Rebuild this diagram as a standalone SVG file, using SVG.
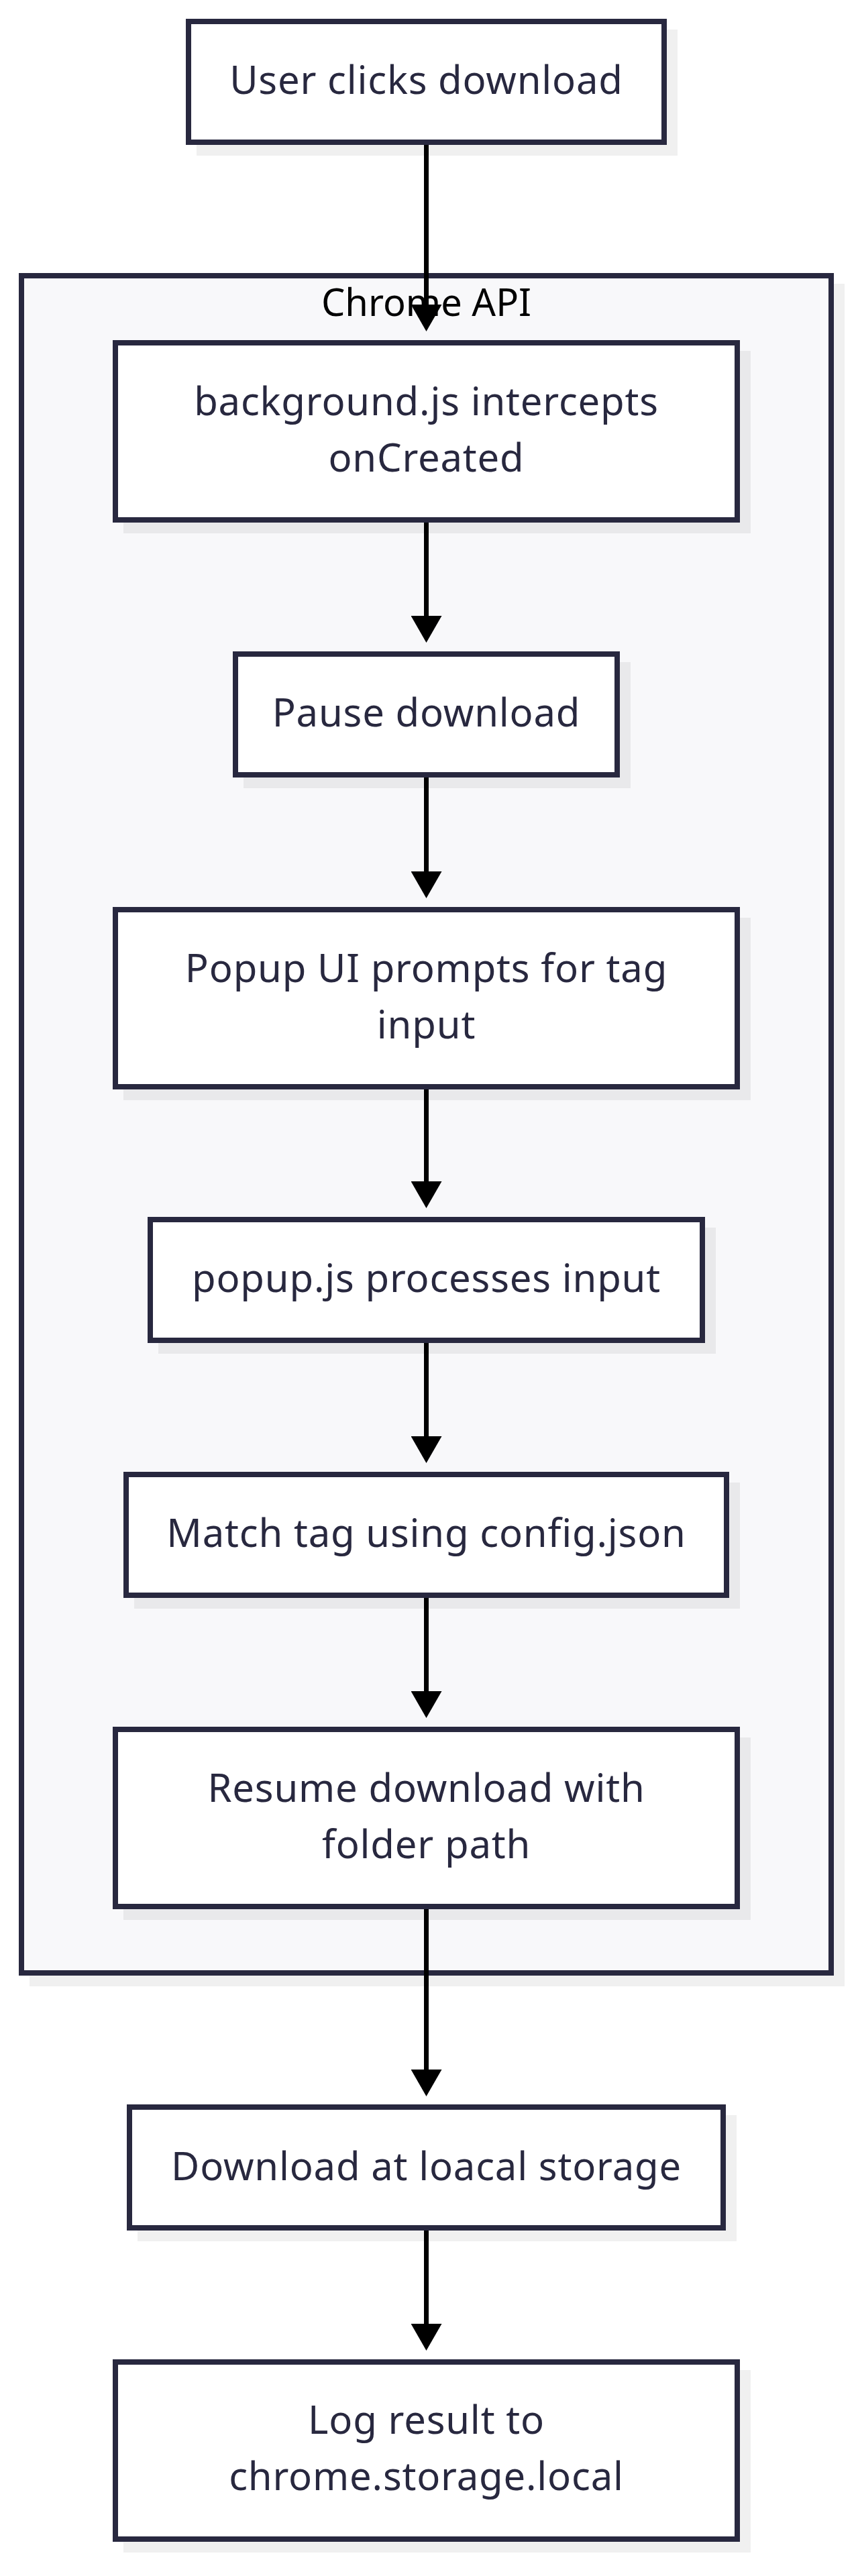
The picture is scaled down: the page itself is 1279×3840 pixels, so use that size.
<svg xmlns="http://www.w3.org/2000/svg" width="1279" height="3840" viewBox="0 0 1279 3840">
<style>
.node{fill:#ffffff;stroke:#28283f;stroke-width:8}
.shadow{fill:#000000;fill-opacity:0.06}
.cluster{fill:#f8f8fa;stroke:#28283f;stroke-width:8}
.label{font-family:"Noto Sans","Liberation Sans",sans-serif;font-size:58px;letter-spacing:0.8px;fill:#28283f;text-anchor:middle}
.clabel{font-family:"Noto Sans","Liberation Sans",sans-serif;font-size:56px;fill:#000000;text-anchor:middle}
.edge{fill:none;stroke:#000000;stroke-width:7}
</style>
<defs>
<marker id="arrow" markerUnits="userSpaceOnUse" markerWidth="40" markerHeight="46" refX="0" refY="23" orient="auto" viewBox="0 0 40 46">
<path d="M0,0 L40,23 L0,46 Z" fill="#000000"/>
</marker>
</defs>
<rect width="1279" height="3840" fill="#ffffff"/>

<g id="cluster-chrome-api">
<rect class="shadow" x="44" y="423" width="1215" height="2538"/>
<rect class="cluster" x="32" y="411" width="1207" height="2530"/>
<text class="clabel" x="635.5" y="471">Chrome API</text>
</g>

<g id="node-user">
<rect class="shadow" x="293" y="44" width="717" height="188"/>
<rect class="node" x="281" y="32" width="709" height="180"/>
<text class="label" x="635.5" y="140">User clicks download</text>
</g>

<g id="node-background">
<rect class="shadow" x="184" y="523" width="935" height="272"/>
<rect class="node" x="172" y="511" width="927" height="264"/>
<text class="label" x="635.5" y="619">background.js intercepts</text>
<text class="label" x="635.5" y="703">onCreated</text>
</g>

<g id="node-pause">
<rect class="shadow" x="363" y="987" width="577" height="188"/>
<rect class="node" x="351" y="975" width="569" height="180"/>
<text class="label" x="635.5" y="1083">Pause download</text>
</g>

<g id="node-popup-ui">
<rect class="shadow" x="184" y="1368" width="935" height="272"/>
<rect class="node" x="172" y="1356" width="927" height="264"/>
<text class="label" x="635.5" y="1464">Popup UI prompts for tag</text>
<text class="label" x="635.5" y="1548">input</text>
</g>

<g id="node-popup-js">
<rect class="shadow" x="236" y="1830" width="831" height="188"/>
<rect class="node" x="224" y="1818" width="823" height="180"/>
<text class="label" x="635.5" y="1926">popup.js processes input</text>
</g>

<g id="node-match">
<rect class="shadow" x="200" y="2210" width="903" height="188"/>
<rect class="node" x="188" y="2198" width="895" height="180"/>
<text class="label" x="635.5" y="2306">Match tag using config.json</text>
</g>

<g id="node-resume">
<rect class="shadow" x="184" y="2590" width="935" height="272"/>
<rect class="node" x="172" y="2578" width="927" height="264"/>
<text class="label" x="635.5" y="2686">Resume download with</text>
<text class="label" x="635.5" y="2770">folder path</text>
</g>

<g id="node-download">
<rect class="shadow" x="205" y="3153" width="893" height="188"/>
<rect class="node" x="193" y="3141" width="885" height="180"/>
<text class="label" x="635.5" y="3250">Download at loacal storage</text>
</g>

<g id="node-log">
<rect class="shadow" x="184" y="3533" width="935" height="272"/>
<rect class="node" x="172" y="3521" width="927" height="264"/>
<text class="label" x="635.5" y="3628">Log result to</text>
<text class="label" x="635.5" y="3712">chrome.storage.local</text>
</g>

<g id="connectors">
<path class="edge" d="M635.5,216 L635.5,454" marker-end="url(#arrow)"/>
<path class="edge" d="M635.5,779 L635.5,918" marker-end="url(#arrow)"/>
<path class="edge" d="M635.5,1159 L635.5,1299" marker-end="url(#arrow)"/>
<path class="edge" d="M635.5,1624 L635.5,1761" marker-end="url(#arrow)"/>
<path class="edge" d="M635.5,2002 L635.5,2141" marker-end="url(#arrow)"/>
<path class="edge" d="M635.5,2382 L635.5,2521" marker-end="url(#arrow)"/>
<path class="edge" d="M635.5,2846 L635.5,3085" marker-end="url(#arrow)"/>
<path class="edge" d="M635.5,3325 L635.5,3464" marker-end="url(#arrow)"/>
</g>
</svg>
